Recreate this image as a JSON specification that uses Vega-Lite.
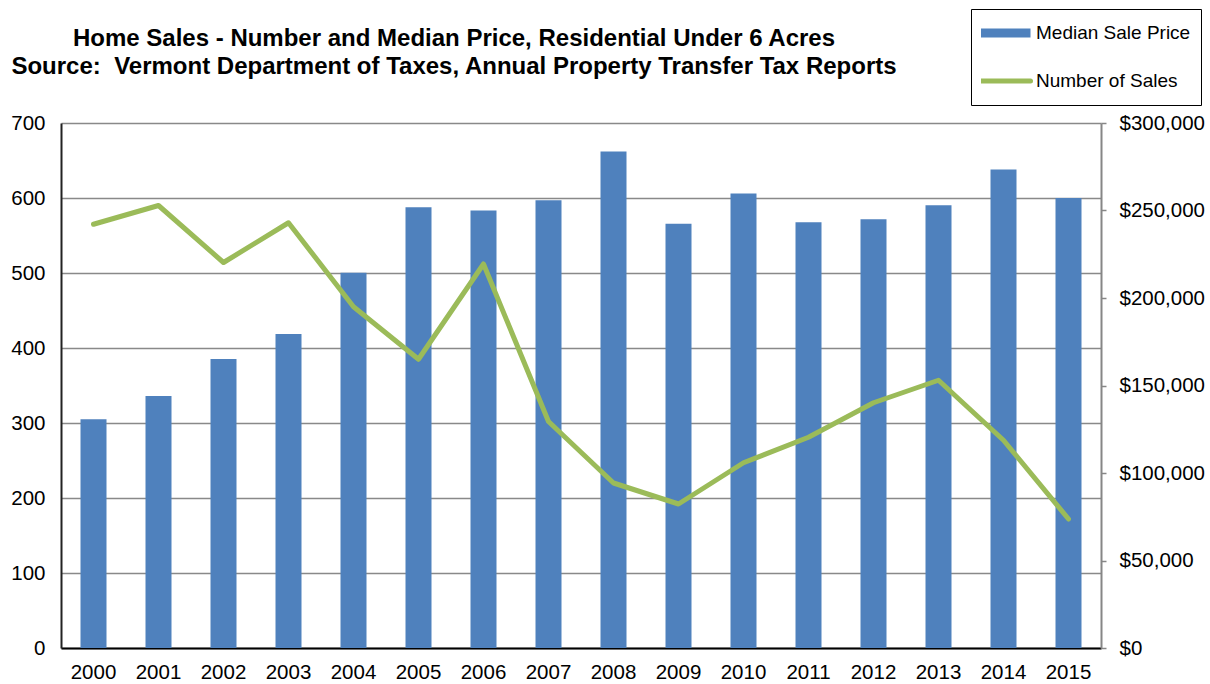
{
  "$schema": "https://vega.github.io/schema/vega-lite/v6.json",
  "width": 1040,
  "height": 525,
  "autosize": {"type": "none"},
  "padding": {"left": 61, "top": 123, "right": 109, "bottom": 36},
  "background": "white",
  "title": {
    "text": ["Home Sales - Number and Median Price, Residential Under 6 Acres", "Source: \u00a0Vermont Department of Taxes, Annual Property Transfer Tax Reports"],
    "frame": "group",
    "anchor": "middle",
    "dx": -127,
    "offset": -94,
    "baseline": "bottom",
    "lineHeight": 28,
    "fontSize": 24,
    "fontWeight": "bold",
    "font": "Liberation Sans",
    "color": "black"
  },
  "data": {
    "values": [
      {"year": "2000", "price": 130700, "sales": 565},
      {"year": "2001", "price": 144000, "sales": 590},
      {"year": "2002", "price": 165100, "sales": 514},
      {"year": "2003", "price": 179400, "sales": 567},
      {"year": "2004", "price": 214400, "sales": 455},
      {"year": "2005", "price": 251900, "sales": 385},
      {"year": "2006", "price": 250000, "sales": 512},
      {"year": "2007", "price": 255900, "sales": 302},
      {"year": "2008", "price": 283700, "sales": 220},
      {"year": "2009", "price": 242400, "sales": 192},
      {"year": "2010", "price": 259700, "sales": 247},
      {"year": "2011", "price": 243300, "sales": 281},
      {"year": "2012", "price": 245000, "sales": 327},
      {"year": "2013", "price": 253000, "sales": 357},
      {"year": "2014", "price": 273400, "sales": 277},
      {"year": "2015", "price": 257200, "sales": 172}
    ]
  },
  "encoding": {
    "x": {
      "field": "year",
      "type": "ordinal",
      "scale": {"paddingInner": 0.6, "paddingOuter": 0.3},
      "axis": {
        "title": null,
        "labelAngle": 0,
        "ticks": false,
        "tickSize": 0,
        "labelPadding": 14,
        "labelFontSize": 20.5,
        "labelColor": "black",
        "labelFont": "Liberation Sans",
        "domainColor": "black",
        "domainWidth": 2,
        "grid": false
      }
    }
  },
  "layer": [
    {
      "mark": {"type": "bar", "color": "#4F81BD"},
      "encoding": {
        "y": {
          "field": "price",
          "type": "quantitative",
          "scale": {"domain": [0, 300000], "nice": false},
          "axis": {
            "orient": "right",
            "title": null,
            "values": [0, 50000, 100000, 150000, 200000, 250000, 300000],
            "format": "$,.0f",
            "grid": false,
            "domainColor": "#868686",
            "domainWidth": 2,
            "tickColor": "#868686",
            "tickWidth": 1.5,
            "tickSize": 5,
            "labelPadding": 13,
            "labelFontSize": 20.5,
            "labelColor": "black",
            "labelFont": "Liberation Sans"
          }
        },
        "color": {
          "datum": "Median Sale Price",
          "scale": {"domain": ["Median Sale Price", "Number of Sales"], "range": ["#4F81BD", "#9BBB59"]},
          "legend": {
            "title": null,
            "orient": "none",
            "legendX": 910,
            "legendY": -114,
            "symbolType": "stroke",
            "symbolSize": 2704,
            "symbolStrokeWidth": 8,
            "symbolOffset": 14,
            "clipHeight": 28,
            "rowPadding": 20,
            "padding": 10,
            "labelFontSize": 19,
            "labelFont": "Liberation Sans",
            "labelColor": "black",
            "labelOffset": 22,
            "strokeColor": "black",
            "fillColor": "white",
            "encode": {
              "symbols": {
                "update": {
                  "stroke": {"scale": "color", "field": "value"},
                  "strokeWidth": {"signal": "datum.value === 'Median Sale Price' ? 9 : 5"},
                  "strokeCap": {"signal": "datum.value === 'Median Sale Price' ? 'butt' : 'round'"}
                }
              }
            }
          }
        }
      }
    },
    {
      "mark": {"type": "line", "strokeWidth": 5, "strokeCap": "round", "strokeJoin": "round"},
      "encoding": {
        "y": {
          "field": "sales",
          "type": "quantitative",
          "scale": {"domain": [0, 700], "nice": false},
          "axis": {
            "orient": "left",
            "title": null,
            "values": [0, 100, 200, 300, 400, 500, 600, 700],
            "grid": true,
            "gridColor": "#898989",
            "gridWidth": 1.3,
            "ticks": false,
            "tickSize": 0,
            "domainColor": "#222222",
            "domainWidth": 2,
            "labelPadding": 16,
            "labelFontSize": 20.5,
            "labelColor": "black",
            "labelFont": "Liberation Sans"
          }
        },
        "color": {"datum": "Number of Sales"}
      }
    }
  ],
  "resolve": {"scale": {"y": "independent"}, "axis": {"y": "independent"}},
  "config": {
    "view": {"stroke": null},
    "font": "Liberation Sans"
  }
}
